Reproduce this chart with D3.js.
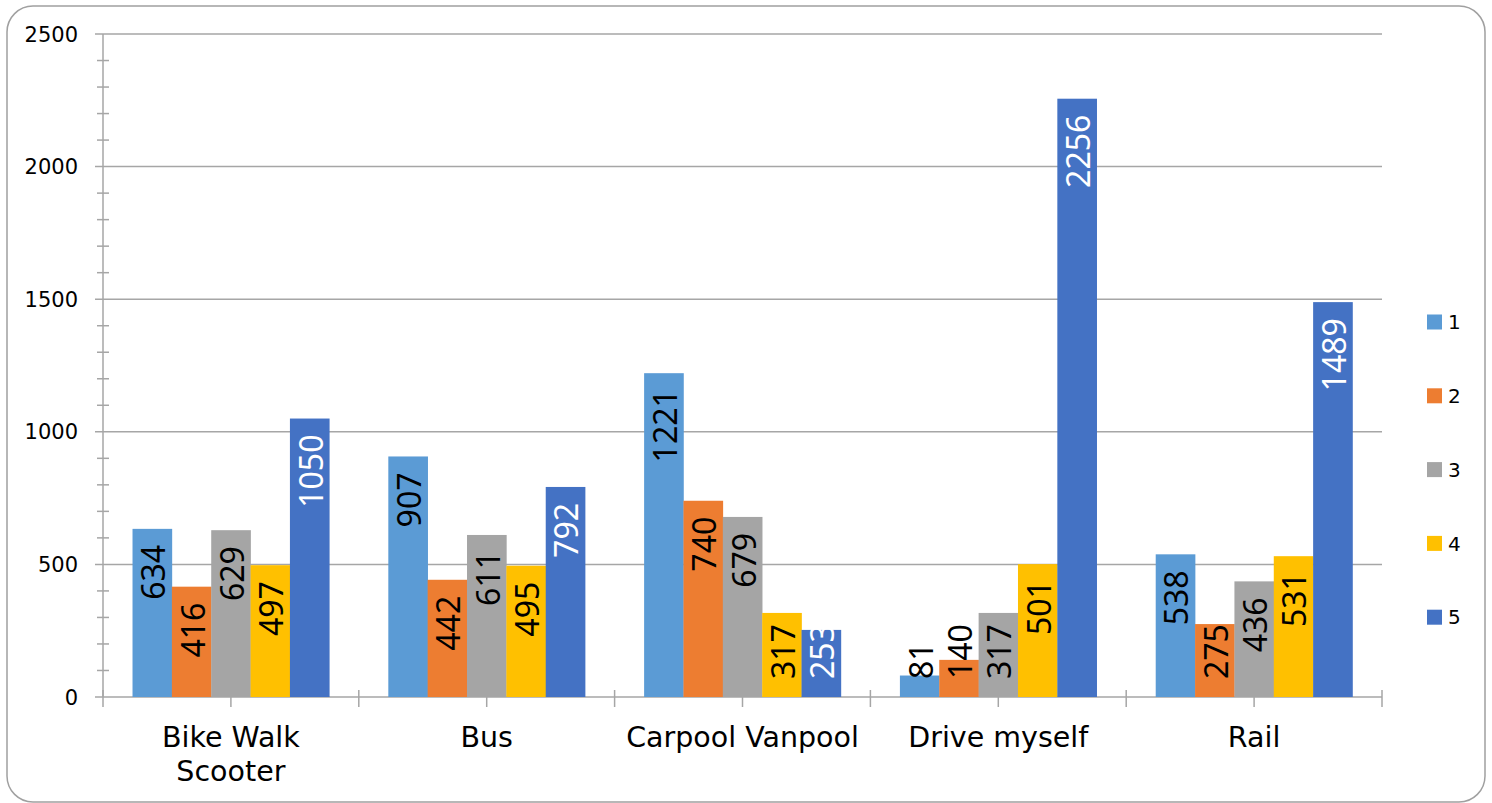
<!DOCTYPE html>
<html>
<head>
<meta charset="utf-8">
<script src="https://cdn.jsdelivr.net/npm/d3@7"></script>
<style>
  body { margin: 0; background: #fff; }
  svg { display: block; }
</style>
</head>
<body>
<div id="chart"></div>
<script>
// chart data
var categories = ["Bike Walk Scooter", "Bus", "Carpool Vanpool", "Drive myself", "Rail"];
var categoryLines = [["Bike Walk", "Scooter"], ["Bus"], ["Carpool Vanpool"], ["Drive myself"], ["Rail"]];
var seriesNames = ["1", "2", "3", "4", "5"];
var series1 = [634, 907, 1221, 81, 538];
var series2 = [416, 442, 740, 140, 275];
var series3 = [629, 611, 679, 317, 436];
var series4 = [497, 495, 317, 501, 531];
var series5 = [1050, 792, 253, 2256, 1489];
var yTicks = [0, 500, 1000, 1500, 2000, 2500];

var allSeries = [series1, series2, series3, series4, series5];
var colors = ["#5B9BD5", "#ED7D31", "#A5A5A5", "#FFC000", "#4472C4"];
var labelColors = ["#000", "#000", "#000", "#000", "#fff"];

var width = 1492,
	height = 803,
	AXIS_COLOR = "#a6a6a6",
	LABEL_FONT = "'Noto Sans', 'Open Sans', sans-serif",
	AXIS_FONT = "'DejaVu Sans', Verdana, sans-serif";

var margin = { left: 103, right: 110, top: 34, bottom: 106 };

var svg = d3.select("#chart").append("svg")
	.attr("width", width)
	.attr("height", height);

// outer rounded frame
svg.append("rect")
	.attr("x", 7)
	.attr("y", 6)
	.attr("width", 1478)
	.attr("height", 796)
	.attr("rx", 26)
	.style("fill", "#fff")
	.style("stroke", "#a0a0a0")
	.style("stroke-width", 1.5);

var x = d3.scaleBand()
	.domain(categories)
	.range([margin.left, width - margin.right])
	.paddingInner(0)
	.paddingOuter(0);

var bandW = x.bandwidth();
var barW = bandW / 6.5; // gap width 150%

var xs = d3.scaleBand()
	.domain(seriesNames)
	.range([barW * 0.75, bandW - barW * 0.75]);

var y = d3.scaleLinear()
	.domain([0, 2500])
	.range([height - margin.bottom, margin.top]);

// horizontal gridlines
svg.append("g").selectAll("line")
	.data(yTicks)
	.enter()
	.append("line")
	.attr("x1", margin.left - 8)
	.attr("x2", width - margin.right)
	.attr("y1", function(d) { return y(d); })
	.attr("y2", function(d) { return y(d); })
	.style("stroke", AXIS_COLOR)
	.style("stroke-width", 1.5);

// minor ticks on the value axis
svg.append("g").selectAll("line")
	.data(d3.range(0, 2501, 100).filter(function(d) { return d % 500 != 0; }))
	.enter()
	.append("line")
	.attr("x1", margin.left - 6)
	.attr("x2", margin.left + 6)
	.attr("y1", function(d) { return y(d); })
	.attr("y2", function(d) { return y(d); })
	.style("stroke", AXIS_COLOR)
	.style("stroke-width", 1.5);

// value axis line
svg.append("line")
	.attr("x1", margin.left)
	.attr("x2", margin.left)
	.attr("y1", y(2500))
	.attr("y2", y(0))
	.style("stroke", AXIS_COLOR)
	.style("stroke-width", 1.5);

// ticks on the category axis, every half category
var halfTicks = d3.range(0, categories.length * 2 + 1).map(function(i) {
	return margin.left + i * bandW / 2;
});
svg.append("g").selectAll("line")
	.data(halfTicks)
	.enter()
	.append("line")
	.attr("x1", function(d) { return d; })
	.attr("x2", function(d) { return d; })
	.attr("y1", y(0) - 7)
	.attr("y2", y(0) + 10)
	.style("stroke", AXIS_COLOR)
	.style("stroke-width", 1.5);

// y tick labels
svg.append("g").selectAll("text")
	.data(yTicks)
	.enter()
	.append("text")
	.attr("x", 78)
	.attr("y", function(d) { return y(d); })
	.attr("dy", "0.36em")
	.text(function(d) { return d; })
	.style("font-family", AXIS_FONT)
	.style("font-size", "21px")
	.style("fill", "#000")
	.style("text-anchor", "end");

// bars
var groups = svg.append("g").selectAll("g")
	.data(categories)
	.enter()
	.append("g")
	.attr("transform", function(d) { return "translate(" + x(d) + ",0)"; });

var bars = groups.selectAll(".bar")
	.data(function(d, ci) {
		return allSeries.map(function(s, si) {
			return { series: si, name: seriesNames[si], value: s[ci] };
		});
	})
	.enter()
	.append("g")
	.attr("class", "bar");

bars.append("rect")
	.attr("x", function(d) { return xs(d.name); })
	.attr("width", xs.bandwidth() + 0.3)
	.attr("y", function(d) { return y(d.value); })
	.attr("height", function(d) { return y(0) - y(d.value); })
	.style("fill", function(d) { return colors[d.series]; });

// rotated value labels, inside end, pushed up when the bar is short
bars.append("text")
	.text(function(d) { return d.value; })
	.style("font-family", LABEL_FONT)
	.style("font-size", "32px")
	.style("fill", function(d) { return labelColors[d.series]; })
	.style("text-anchor", "end")
	.attr("transform", function(d) {
		var len = this.getComputedTextLength();
		var top = y(d.value) + 16;
		var limit = y(0) - 18;
		if (top + len > limit) top = limit - len;
		var cx = xs(d.name) + xs.bandwidth() / 2 + 13;
		return "translate(" + cx + "," + top + ") rotate(-90)";
	});

// category labels
var catLabels = svg.append("g").selectAll("text")
	.data(categories)
	.enter()
	.append("text")
	.attr("x", function(d) { return x(d) + bandW / 2; })
	.attr("y", 747)
	.style("font-family", AXIS_FONT)
	.style("font-size", "28.5px")
	.style("fill", "#000")
	.style("text-anchor", "middle");

catLabels.selectAll("tspan")
	.data(function(d, i) { return categoryLines[i]; })
	.enter()
	.append("tspan")
	.attr("x", function() { return x(this.parentNode.__data__) + bandW / 2; })
	.attr("dy", function(d, i) { return i == 0 ? 0 : 34; })
	.text(function(d) { return d; });

// legend
var legend = svg.append("g").selectAll("g")
	.data(seriesNames)
	.enter()
	.append("g")
	.attr("transform", function(d, i) { return "translate(1427," + (322 + i * 73.8) + ")"; });

legend.append("rect")
	.attr("x", 0)
	.attr("y", -7.5)
	.attr("width", 15)
	.attr("height", 15)
	.style("fill", function(d, i) { return colors[i]; });

legend.append("text")
	.attr("x", 21)
	.attr("y", 0)
	.attr("dy", "0.36em")
	.text(function(d) { return d; })
	.style("font-family", AXIS_FONT)
	.style("font-size", "20px")
	.style("fill", "#000");
</script>
</body>
</html>
